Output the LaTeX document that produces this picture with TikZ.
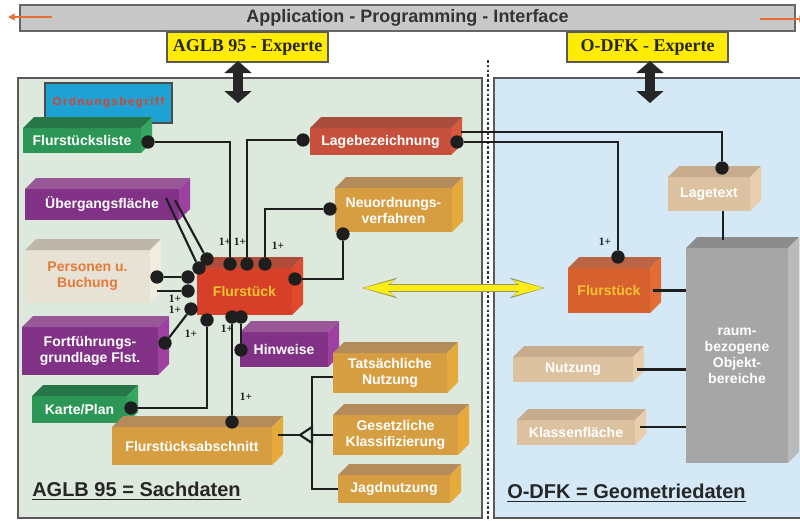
\documentclass[tikz,border=0pt]{standalone}
\usepackage{fontspec}
\setmainfont{Liberation Serif}
\setsansfont{Liberation Sans}
\usetikzlibrary{arrows.meta,calc}

\definecolor{sachgruen}{RGB}{221,233,221}
\definecolor{geoblau}{RGB}{212,232,246}
\definecolor{apigrau}{RGB}{200,200,200}
\definecolor{expertegelb}{RGB}{255,236,0}
\definecolor{ordnungblau}{RGB}{30,162,212}
\definecolor{schriftrot}{RGB}{224,64,40}
\definecolor{flstgelb}{RGB}{246,196,48}
\definecolor{personenorange}{RGB}{226,122,58}
\definecolor{pfeilorange}{RGB}{232,110,50}
\definecolor{pfeilgelb}{RGB}{250,236,20}
\definecolor{pfeilrand}{RGB}{150,150,90}
\definecolor{linie}{RGB}{30,30,30}
% Couleurs des blocs : face avant, dessus, côté
\definecolor{gruen}{RGB}{44,150,86}
\definecolor{gruentop}{RGB}{38,118,72}
\definecolor{gruenside}{RGB}{52,166,96}
\definecolor{rotbraun}{RGB}{198,80,60}
\definecolor{rotbrauntop}{RGB}{168,76,62}
\definecolor{rotbraunside}{RGB}{214,86,62}
\definecolor{ocker}{RGB}{214,158,64}
\definecolor{ockertop}{RGB}{180,140,92}
\definecolor{ockerside}{RGB}{230,170,60}
\definecolor{lila}{RGB}{130,50,134}
\definecolor{lilatop}{RGB}{152,88,152}
\definecolor{lilaside}{RGB}{158,64,160}
\definecolor{sand}{RGB}{232,226,212}
\definecolor{sandtop}{RGB}{190,182,168}
\definecolor{sandside}{RGB}{240,236,224}
\definecolor{flstrot}{RGB}{214,64,40}
\definecolor{flstrottop}{RGB}{176,76,58}
\definecolor{flstrotside}{RGB}{226,72,44}
\definecolor{geoorange}{RGB}{214,96,46}
\definecolor{geoorangetop}{RGB}{188,100,70}
\definecolor{geoorangeside}{RGB}{226,108,52}
\definecolor{hellbraun}{RGB}{220,194,160}
\definecolor{hellbrauntop}{RGB}{198,172,140}
\definecolor{hellbraunside}{RGB}{232,206,172}
\definecolor{grau}{RGB}{166,166,166}
\definecolor{grautop}{RGB}{140,140,140}
\definecolor{grauside}{RGB}{186,186,186}

% Bloc en relief : nom, x0, y0, x1, y1 (face avant), couleur, couleur du texte, texte
\newcommand{\tiefe}{11}
\newcommand{\quader}[8]{%
  \node[kasten, fill=#6, text=#7,
        minimum width={(#4-#2)*0.75pt}, minimum height={(#5-#3)*0.75pt}]
    (#1) at ({(#2+#4)/2},{(#3+#5)/2}) {#8};
  \fill[#6top] (#1.north west) -- ++(\tiefe,-\tiefe) -- ++({#4-#2},0)
    -- (#1.north east) -- cycle;
  \fill[#6side] (#1.north east) -- ++(\tiefe,-\tiefe) -- ++(0,{#5-#3})
    -- (#1.south east) -- cycle;
}

\begin{document}
\begin{tikzpicture}[
    x=0.75pt, y=-0.75pt,
    kasten/.style={inner sep=0pt, outer sep=0pt, align=center,
      font=\sffamily\bfseries\fontsize{10.5}{12}\selectfont},
    experte/.style={draw=black!65, line width=0.8pt, fill=expertegelb,
      minimum width={161*0.75pt}, minimum height={30*0.75pt}, inner sep=0pt,
      font=\bfseries\fontsize{13.5}{15}\selectfont, text=black!85},
    punkt/.style={circle, fill=linie, inner sep=0pt, minimum size=10pt},
    verbindung/.style={draw=linie, line width=1.6pt},
    anzahl/.style={inner sep=0pt, text=linie,
      font=\bfseries\fontsize{8.5}{9}\selectfont},
    titel/.style={inner sep=0pt, anchor=west, text=black!85,
      font=\sffamily\bfseries\fontsize{15}{17}\selectfont},
    panel/.style={draw=black!65, line width=1pt},
    schwarzpfeil/.style={draw=black!85, line width=7pt,
      {Triangle[length=9pt,width=20pt]}-{Triangle[length=9pt,width=20pt]}},
    orangepfeil/.style={draw=pfeilorange, line width=1.3pt,
      -{Triangle[length=5pt,width=5pt]}}
  ]
  \useasboundingbox (0,0) rectangle (800,521);
  \fill[white] (0,0) rectangle (800,521);

  % Les deux domaines
  \draw[panel, fill=sachgruen] (18,78) rectangle (482,518);
  \draw[panel, fill=geoblau] (494,78) rectangle (806,518);

  % Séparation pointillée
  \draw[draw=black!80, line width=2.2pt, dash pattern=on 2pt off 1.6pt]
    (488,60) -- (488,521);

  % Barre de l'interface
  \node[
    draw=black!60,
    line width=0.8pt,
    fill=apigrau,
    minimum width={775*0.75pt},
    minimum height={26*0.75pt},
    inner sep=0pt,
    text=black!80,
    font=\sffamily\bfseries\fontsize{13.5}{15}\selectfont
  ] (api) at (407.5,18) {Application - Programming - Interface};
  \coordinate (apiLa) at (52,17);
  \coordinate (apiLb) at (8,17);
  \coordinate (apiRa) at (760,19);
  \coordinate (apiRb) at (806,19);
  \draw[orangepfeil] (apiLa) -- (apiLb);
  \draw[orangepfeil] (apiRa) -- (apiRb);

  % Experts
  \node[experte] (aglb) at (247.5,47) {AGLB 95 - Experte};
  \node[experte] (odfk) at (647.5,47) {O-DFK - Experte};
  \coordinate (aglbA) at (238,61);
  \coordinate (aglbB) at (238,103);
  \coordinate (odfkA) at (650,61);
  \coordinate (odfkB) at (650,103);
  \draw[schwarzpfeil] (aglbA) -- (aglbB);
  \draw[schwarzpfeil] (odfkA) -- (odfkB);

  % Pastille bleue
  \node[
    draw=black!70,
    line width=0.8pt,
    fill=ordnungblau,
    minimum width={127*0.75pt},
    minimum height={40*0.75pt},
    inner sep=0pt,
    text=schriftrot,
    font=\sffamily\bfseries\fontsize{8.5}{9}\selectfont
  ] (ordnung) at (108.5,103) {\addfontfeatures{LetterSpace=14}Ordnungsbegriff};

  % Blocs AGLB
  \quader{liste}{23}{128}{141}{153}{gruen}{white}{Flurstücksliste}
  \quader{lagebez}{310}{128}{451}{155}{rotbraun}{white}{Lagebezeichnung}
  \quader{neuord}{335}{188}{452}{232}{ocker}{white}{Neuordnungs-\\verfahren}
  \quader{uebergang}{25}{189}{179}{220}{lila}{white}{Übergangsfläche}
  \quader{personen}{25}{250}{150}{303}{sand}{personenorange}{Personen u.\\Buchung}
  \quader{flst}{197}{268}{292}{315}{flstrot}{flstgelb}{Flurstück}
  \quader{fortf}{22}{327}{158}{375}{lila}{white}{Fortführungs-\\grundlage Flst.}
  \quader{karte}{32}{396}{127}{423}{gruen}{white}{Karte/Plan}
  \quader{hinweise}{240}{332}{328}{367}{lila}{white}{Hinweise}
  \quader{abschnitt}{112}{427}{272}{465}{ocker}{white}{Flurstücksabschnitt}
  \quader{tatsaechl}{333}{353}{447}{393}{ocker}{white}{Tatsächliche\\Nutzung}
  \quader{gesetzl}{333}{415}{458}{455}{ocker}{white}{Gesetzliche\\Klassifizierung}
  \quader{jagd}{338}{475}{450}{503}{ocker}{white}{Jagdnutzung}

  % Blocs O-DFK
  \quader{objekt}{686}{248}{788}{463}{grau}{white}{raum-\\bezogene\\Objekt-\\bereiche}
  \quader{flstgeo}{568}{268}{650}{313}{geoorange}{flstgelb}{Flurstück}
  \quader{lagetext}{668}{177}{750}{211}{hellbraun}{white}{Lagetext}
  \quader{nutzung}{513}{357}{633}{382}{hellbraun}{white}{Nutzung}
  \quader{klasse}{517}{420}{635}{445}{hellbraun}{white}{Klassenfläche}

  % Points d'attache
  \node[punkt] (dListe) at (148,142) {};
  \node[punkt] (dLageL) at (303,140) {};
  \node[punkt] (dLageR) at (457,142) {};
  \node[punkt] (dNeuL) at (330,209) {};
  \node[punkt] (dNeuU) at (343,234) {};
  \node[punkt] (dF1) at (230,264) {};
  \node[punkt] (dF2) at (247,264) {};
  \node[punkt] (dF3) at (265,264) {};
  \node[punkt] (dF4) at (295,279) {};
  \node[punkt] (dF5) at (207,259) {};
  \node[punkt] (dF6) at (199,268) {};
  \node[punkt] (dF7) at (188,277) {};
  \node[punkt] (dF8) at (188,291) {};
  \node[punkt] (dF9) at (191,309) {};
  \node[punkt] (dF10) at (207,320) {};
  \node[punkt] (dF11) at (232,317) {};
  \node[punkt] (dF12) at (241,317) {};
  \node[punkt] (dPers) at (157,277) {};
  \node[punkt] (dFort) at (165,343) {};
  \node[punkt] (dKarte) at (131,408) {};
  \node[punkt] (dHinw) at (241,350) {};
  \node[punkt] (dAbschn) at (232,422) {};
  \node[punkt] (dFlR) at (618,257) {};
  \node[punkt] (dLagetext) at (722,168) {};

  \coordinate (ueA) at (166,198);
  \coordinate (ueB) at (175,200);
  \coordinate (persB) at (157,291);
  \coordinate (abschnR) at (278,435);
  \coordinate (spitze) at (300,435);
  \coordinate (gabel) at (312,435);
  \coordinate (lageRo) at (461,132);
  \coordinate (lagetextU) at (723,211);
  \coordinate (objektO) at (723,240);

  % Liaisons vers le Flurstück
  \draw[verbindung] (dListe) -| (dF1);
  \draw[verbindung] (dLageL) -| (dF2);
  \draw[verbindung] (dNeuL) -| (dF3);
  \draw[verbindung] (dNeuU) |- (dF4);
  \draw[verbindung] (ueA) -- (dF6);
  \draw[verbindung] (ueB) -- (dF5);
  \draw[verbindung] (dPers) -- (dF7);
  \draw[verbindung] (persB) -- (dF8);
  \draw[verbindung] (dFort) -- (dF9);
  \draw[verbindung] (dKarte) -| (dF10);
  \draw[verbindung] (dAbschn) -- (dF11);
  \draw[verbindung] (dF12) -- (dHinw);

  % Fourche des utilisations
  \draw[verbindung] (abschnR) -- (spitze);
  \draw[verbindung, line join=miter] (spitze) -- ++(12,-8) -- ++(0,16) -- cycle;
  \draw[verbindung] ([yshift=-3pt]tatsaechl.west) -| (gabel) |- (jagd.west);
  \draw[verbindung] (gabel) -- (gesetzl.west);

  % Liaisons vers la géométrie
  \draw[verbindung] (dLageR) -| (dFlR);
  \draw[verbindung] (lageRo) -| (dLagetext);
  \draw[verbindung] (lagetextU) -- (objektO);
  \draw[verbindung] ([xshift=2pt]flstgeo.east) -- (flstgeo.east -| objekt.west);
  \draw[verbindung] ([xshift=3pt]nutzung.east) -- (nutzung.east -| objekt.west);
  \draw[verbindung] ([xshift=4pt,yshift=4pt]klasse.east)
    -- ([yshift=4pt]klasse.east -| objekt.west);

  % Cardinalités
  \node[anzahl] (n1) at (225,242) {1+};
  \node[anzahl] (n2) at (240,242) {1+};
  \node[anzahl] (n3) at (278,246) {1+};
  \node[anzahl] (n4) at (175,299) {1+};
  \node[anzahl] (n5) at (175,310) {1+};
  \node[anzahl] (n6) at (191,334) {1+};
  \node[anzahl] (n7) at (227,329) {1+};
  \node[anzahl] (n8) at (246,397) {1+};
  \node[anzahl] (n9) at (605,242) {1+};

  % Double flèche jaune entre les deux Flurstück
  \coordinate (gelbL) at (362,288);
  \coordinate (gelbR) at (545,288);
  \draw[draw=pfeilrand, line width=5.5pt,
    {Stealth[length=26pt,width=15pt,inset=9pt]}-{Stealth[length=26pt,width=15pt,inset=9pt]}]
    (gelbL) -- (gelbR);
  \draw[draw=pfeilgelb, line width=3.8pt, shorten <=1pt, shorten >=1pt,
    {Stealth[length=23pt,width=12pt,inset=8pt]}-{Stealth[length=23pt,width=12pt,inset=8pt]}]
    (gelbL) -- (gelbR);

  % Légendes des domaines
  \node[titel] (sachdaten) at (32,491) {\underline{AGLB 95 = Sachdaten}};
  \node[titel] (geodaten) at (507,493) {\underline{O-DFK = Geometriedaten}};
\end{tikzpicture}
\end{document}
